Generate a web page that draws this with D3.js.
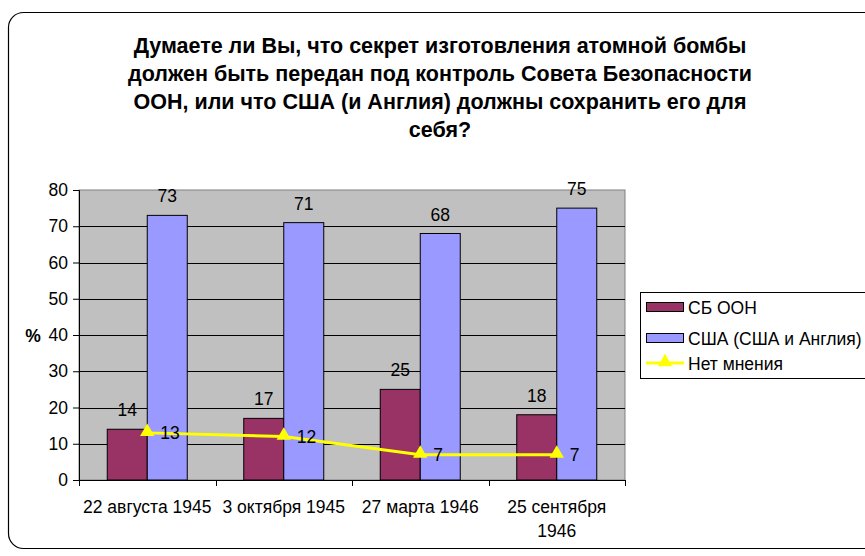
<!DOCTYPE html>
<html>
<head>
<meta charset="utf-8">
<script src="https://cdn.jsdelivr.net/npm/d3@7"></script>
<style>
  body { margin: 0; background: #fff; }
  svg { display: block; font-family: "Liberation Sans", Arial, sans-serif; }
</style>
</head>
<body>
<div id="chart"></div>
<script>
const titleLines = [
  "Думаете ли Вы, что секрет изготовления атомной бомбы",
  "должен быть передан под контроль Совета Безопасности",
  "ООН, или что США (и Англия) должны сохранить его для",
  "себя?"
]
const categories = [["22 августа 1945"], ["3 октября 1945"], ["27 марта 1946"], ["25 сентября", "1946"]]
const sbOon = [14, 17, 25, 18]
const usa = [73, 71, 68, 75]
const noOpinion = [13, 12, 7, 7]
const seriesNames = ["СБ ООН", "США (США и Англия)", "Нет мнения"]
const yTicks = [0, 10, 20, 30, 40, 50, 60, 70, 80]

const W = 865, H = 556
const plot = { left: 79, right: 625, top: 190, bottom: 480 }
const FS = "17.5px"

const svg = d3.select("#chart").append("svg")
  .attr("width", W).attr("height", H)

// outer frame (right side runs off the picture)
svg.append("rect")
  .attr("x", 8.5).attr("y", 12.5)
  .attr("width", 900).attr("height", 536)
  .attr("rx", 15).attr("ry", 15)
  .attr("fill", "#fff").attr("stroke", "#000").attr("stroke-width", 1.2)

// title
svg.append("g").selectAll("text")
  .data(titleLines)
  .enter().append("text")
    .attr("x", 440)
    .attr("y", (d, i) => 53 + i * 28)
    .attr("text-anchor", "middle")
    .style("font-size", "21.5px")
    .style("font-weight", "bold")
    .text(d => d)

const x = d3.scaleBand()
  .domain(d3.range(categories.length))
  .range([plot.left, plot.right])

const y = d3.scaleLinear()
  .domain([0, 80])
  .range([plot.bottom, plot.top])

const inner = d3.scaleBand()
  .domain([0, 1])
  .range([0, 80])

const groupOffset = (x.bandwidth() - 80) / 2

// plot area
svg.append("rect")
  .attr("x", plot.left).attr("y", plot.top)
  .attr("width", plot.right - plot.left).attr("height", plot.bottom - plot.top)
  .attr("fill", "#c0c0c0").attr("stroke", "#808080")

// gridlines
svg.append("g").selectAll("line")
  .data(yTicks.filter(d => d > 0 && d < 80))
  .enter().append("line")
    .attr("x1", plot.left).attr("x2", plot.right)
    .attr("y1", d => Math.round(y(d)) + 0.5).attr("y2", d => Math.round(y(d)) + 0.5)
    .attr("stroke", "#000")

// y axis
const yAxis = svg.append("g")
  .attr("transform", `translate(${plot.left},0)`)
  .attr("font-size", null)
  .attr("font-family", null)
  .call(d3.axisLeft(y).tickValues(yTicks).tickSize(6).tickPadding(5))
yAxis.attr("font-size", FS).attr("font-family", null)
yAxis.selectAll("text").style("font-size", FS).attr("fill", "#000")
yAxis.select(".domain").attr("stroke", "#000")

svg.append("text")
  .attr("x", 33).attr("y", 342)
  .attr("text-anchor", "middle")
  .style("font-size", FS).style("font-weight", "bold")
  .text("%")

// x axis
const xAxisG = svg.append("g")
  .attr("transform", `translate(0,${plot.bottom})`)
xAxisG.append("line")
  .attr("x1", plot.left).attr("x2", plot.right)
  .attr("y1", 0.5).attr("y2", 0.5).attr("stroke", "#000")
xAxisG.selectAll(".tick")
  .data(d3.range(categories.length + 1))
  .enter().append("line")
    .attr("x1", d => Math.round(plot.left + d * x.step()) + 0.5)
    .attr("x2", d => Math.round(plot.left + d * x.step()) + 0.5)
    .attr("y1", 0).attr("y2", 6)
    .attr("stroke", "#000")

const xLabels = svg.append("g").selectAll("text")
  .data(categories)
  .enter().append("text")
    .attr("x", (d, i) => x(i) + x.bandwidth() / 2)
    .attr("y", 513)
    .attr("text-anchor", "middle")
    .style("font-size", FS)
xLabels.selectAll("tspan")
  .data(d => d)
  .enter().append("tspan")
    .attr("x", function() { return this.parentNode.getAttribute("x") })
    .attr("dy", (d, i) => i === 0 ? 0 : 24)
    .text(d => d)

// bars
const barSeries = [
  { values: sbOon, color: "#993366" },
  { values: usa, color: "#9999ff" }
]
barSeries.forEach((s, si) => {
  const g = svg.append("g")
  g.selectAll("rect")
    .data(s.values)
    .enter().append("rect")
      .attr("x", (d, i) => x(i) + groupOffset + inner(si))
      .attr("y", d => y(d))
      .attr("width", inner.bandwidth())
      .attr("height", d => y(0) - y(d))
      .attr("fill", s.color)
      .attr("stroke", "#000")
      .attr("stroke-width", 1)
  g.selectAll("text")
    .data(s.values)
    .enter().append("text")
      .attr("x", (d, i) => x(i) + groupOffset + inner(si) + inner.bandwidth() / 2)
      .attr("y", d => y(d) - 13)
      .attr("text-anchor", "middle")
      .style("font-size", FS)
      .text(d => d)
})

// line series
const cx = i => x(i) + x.bandwidth() / 2
const line = d3.line()
  .x((d, i) => cx(i))
  .y(d => y(d))
svg.append("path")
  .datum(noOpinion)
  .attr("d", line)
  .attr("fill", "none")
  .attr("stroke", "#ffff00")
  .attr("stroke-width", 3)

const tri = d3.symbol().type(d3.symbolTriangle).size(90)
svg.append("g").selectAll("path")
  .data(noOpinion)
  .enter().append("path")
    .attr("transform", (d, i) => `translate(${cx(i)},${y(d) - 1})`)
    .attr("d", tri)
    .attr("fill", "#ffff00")

svg.append("g").selectAll("text")
  .data(noOpinion)
  .enter().append("text")
    .attr("x", (d, i) => cx(i) + 13)
    .attr("y", d => y(d) + 6.5)
    .style("font-size", FS)
    .text(d => d)

// legend
const legend = svg.append("g")
legend.append("rect")
  .attr("x", 640.5).attr("y", 292.5)
  .attr("width", 240).attr("height", 86)
  .attr("fill", "#fff").attr("stroke", "#000")
const rowY = [307, 338, 363]
legend.selectAll("rect.sw")
  .data(barSeries)
  .enter().append("rect")
    .attr("class", "sw")
    .attr("x", 646.5).attr("y", (d, i) => rowY[i] - 4.5)
    .attr("width", 37).attr("height", 9)
    .attr("fill", d => d.color).attr("stroke", "#000")
legend.append("line")
  .attr("x1", 646).attr("x2", 684)
  .attr("y1", rowY[2]).attr("y2", rowY[2])
  .attr("stroke", "#ffff00").attr("stroke-width", 3)
legend.append("path")
  .attr("transform", `translate(665,${rowY[2] - 1})`)
  .attr("d", tri)
  .attr("fill", "#ffff00")
legend.selectAll("text")
  .data(seriesNames)
  .enter().append("text")
    .attr("x", 688)
    .attr("y", (d, i) => rowY[i] + 6.5)
    .style("font-size", FS)
    .text(d => d)
</script>
</body>
</html>
